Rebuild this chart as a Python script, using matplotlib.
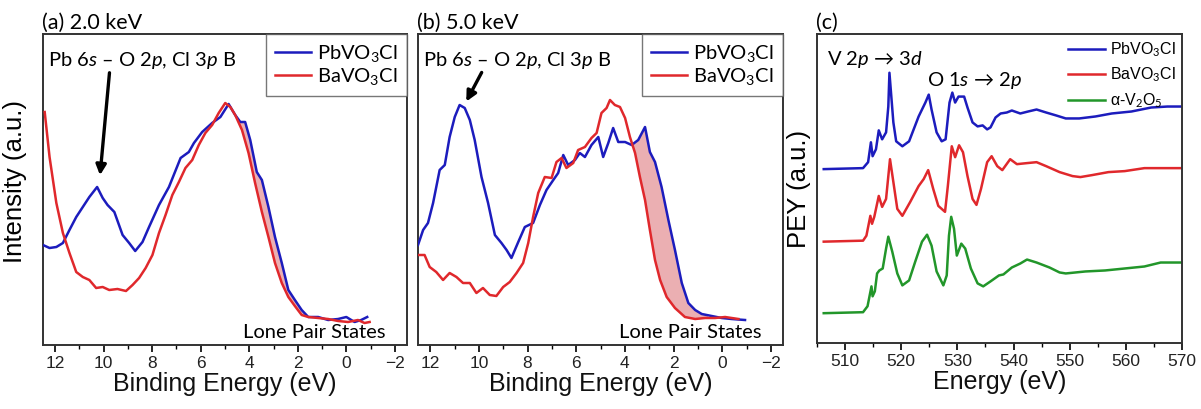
import numpy as np
import matplotlib.pyplot as plt

# ------------ data (intensity in arbitrary units) ------------

# (a) 2.0 keV
a_pb_e = [12.5, 12.23, 11.95, 11.68, 11.41, 11.13, 10.86, 10.59, 10.27, 10.04, 9.84, 9.56, 9.22, 8.95,
          8.70, 8.40, 8.13, 7.72, 7.31, 6.83, 6.49, 6.28, 5.94, 5.53, 5.19, 4.85, 4.58, 4.37, 4.17,
          3.96, 3.69, 3.48, 3.21, 2.94, 2.66, 2.39, 2.12, 1.84, 1.57, 1.16, 0.75, 0.34, 0.0, -0.34,
          -0.61, -0.86]
a_pb_i = [100, 97, 98, 102, 115, 128, 138, 148, 158, 147, 140, 133, 110, 102,
          94, 103, 118, 140, 158, 187, 193, 202, 213, 222, 228, 241, 230, 223, 223,
          205, 173, 165, 138, 108, 82, 55, 45, 35, 28, 28, 25, 26, 28, 23,
          25, 28]
a_ba_e = [12.43, 12.23, 11.95, 11.68, 11.41, 11.13, 10.86, 10.59, 10.31, 10.04, 9.77, 9.43, 9.08, 8.81,
          8.54, 8.27, 7.99, 7.72, 7.45, 7.17, 6.90, 6.63, 6.35, 6.08, 5.81, 5.53, 5.26, 4.99, 4.78,
          4.58, 4.30, 4.03, 3.76, 3.48, 3.21, 2.94, 2.66, 2.39, 2.12, 1.84, 1.57, 1.16, 0.75, 0.34,
          -0.07, -0.48, -0.75, -0.96]
a_ba_i = [233, 188, 142, 112, 92, 73, 68, 65, 57, 58, 55, 56, 54, 60,
          67, 77, 90, 112, 130, 150, 163, 177, 185, 200, 212, 220, 232, 242, 238,
          230, 215, 192, 162, 133, 108, 82, 62, 48, 39, 30, 28, 27, 26, 24,
          23, 25, 22, 23]

# (b) 5.0 keV
b_pb_e = [12.5, 12.29, 12.09, 11.88, 11.61, 11.40, 11.20, 10.99, 10.79, 10.58, 10.37, 10.17, 9.89, 9.62,
          9.34, 9.07, 8.86, 8.66, 8.38, 8.11, 7.77, 7.49, 7.22, 6.94, 6.74, 6.53, 6.33, 6.05, 5.85,
          5.64, 5.37, 5.09, 4.89, 4.68, 4.48, 4.27, 3.99, 3.72, 3.45, 3.17, 2.97, 2.76, 2.49, 2.21,
          1.94, 1.66, 1.39, 1.11, 0.84, 0.43, 0.02, -0.39, -0.94]
b_pb_i = [100, 115, 122, 142, 175, 180, 208, 228, 240, 237, 225, 205, 168, 142,
          110, 102, 95, 87, 103, 118, 122, 140, 155, 165, 172, 190, 180, 185, 192,
          188, 200, 208, 188, 202, 217, 203, 203, 200, 205, 218, 193, 183, 158, 125,
          95, 62, 42, 35, 31, 29, 27, 26, 25]
b_ba_e = [12.5, 12.23, 12.02, 11.75, 11.47, 11.20, 10.92, 10.65, 10.37, 10.10, 9.83, 9.55, 9.28, 9.00,
          8.73, 8.45, 8.18, 7.97, 7.77, 7.56, 7.29, 7.01, 6.81, 6.60, 6.40, 6.12, 5.92, 5.64, 5.37,
          5.16, 4.96, 4.75, 4.61, 4.41, 4.20, 3.99, 3.79, 3.58, 3.38, 3.17, 2.97, 2.76, 2.55, 2.28,
          1.94, 1.53, 1.11, 0.70, 0.29, -0.12, -0.67]
b_ba_i = [90, 90, 78, 73, 65, 72, 68, 62, 62, 52, 57, 50, 49, 58,
          63, 72, 82, 102, 128, 152, 168, 167, 183, 187, 177, 182, 195, 198, 207,
          212, 232, 237, 245, 240, 238, 227, 208, 192, 168, 145, 115, 85, 65, 48,
          37, 28, 26, 27, 27, 28, 26]

# (c) PEY, curves already stacked with offsets
c_pb_e = [506.2, 513.2, 514.1, 514.6, 514.9, 515.5, 516.0, 516.6, 517.3, 517.7, 517.9, 518.6, 519.1, 520.2,
          521.4, 523.1, 524.3, 524.9, 525.4, 526.3, 527.2, 527.9, 528.6, 529.1, 529.6, 530.2, 531.2,
          531.8, 532.7, 533.6, 534.5, 535.3, 535.9, 536.8, 537.7, 538.8, 539.7, 541.2, 542.6, 544.1,
          545.8, 547.6, 549.3, 551.7, 554.6, 557.5, 561.0, 564.5, 567.4, 569.8]
c_pb_i = [175, 176, 182, 202, 188, 195, 214, 205, 212, 238, 272, 222, 203, 198,
          203, 228, 242, 250, 235, 212, 203, 205, 242, 252, 242, 248, 248,
          237, 222, 218, 219, 215, 217, 227, 231, 232, 234, 231, 233, 235,
          232, 229, 226, 226, 228, 231, 233, 237, 238, 238]
c_ba_e = [506.2, 513.2, 513.8, 514.5, 514.8, 515.2, 516.0, 516.6, 517.3, 518.0, 518.6, 519.3, 520.2, 521.6,
          523.1, 524.0, 524.8, 525.7, 526.6, 527.8, 528.3, 529.0, 529.6, 530.3, 531.0, 531.8, 532.7,
          533.4, 534.2, 535.3, 536.1, 537.1, 538.0, 539.4, 540.6, 542.3, 544.1, 545.8, 548.2, 550.5,
          551.9, 554.0, 556.9, 559.8, 563.3, 566.8, 569.8]
c_ba_i = [102, 103, 108, 128, 120, 127, 148, 137, 145, 185, 162, 135, 128, 142,
          158, 165, 174, 155, 138, 132, 158, 198, 187, 199, 192, 168, 145,
          139, 155, 182, 188, 178, 174, 185, 180, 181, 182, 178, 172, 168,
          167, 169, 172, 173, 176, 176, 176]
c_v2o5_e = [506.2, 513.2, 514.0, 514.7, 514.9, 515.3, 515.7, 516.1, 516.7, 517.3, 517.7, 518.4, 519.3, 520.2,
            521.4, 522.5, 523.7, 524.6, 525.4, 526.3, 527.5, 528.1, 528.5, 528.9, 529.4, 529.9, 530.7,
            531.4, 532.4, 533.6, 534.6, 535.9, 537.4, 538.2, 539.7, 541.2, 542.4, 544.1, 546.4, 548.2,
            549.3, 552.8, 556.3, 559.8, 563.3, 566.2, 569.8]
c_v2o5_i = [30, 31, 37, 57, 47, 52, 70, 73, 75, 95, 107, 92, 70, 58,
            63, 82, 102, 109, 98, 72, 58, 68, 108, 127, 115, 88, 100,
            95, 75, 60, 57, 62, 68, 69, 76, 80, 84, 81, 76, 71,
            70, 72, 73, 75, 77, 81, 81]

labels_vb = ['PbVO$_3$Cl', 'BaVO$_3$Cl']
labels_xas = ['PbVO$_3$Cl', 'BaVO$_3$Cl', '\u03b1-V$_2$O$_5$']

blue = '#1c1cbd'
red = '#e0282c'
green = '#22962a'
pink = '#e9a6aa'

# ------------ figure ------------
W, H = 1201, 409
fig = plt.figure(figsize=(W / 100, H / 100), dpi=100)

calib = ['Lato', 'DejaVu Sans']
arial = 'Liberation Sans'
plt.rcParams['mathtext.fontset'] = 'custom'
plt.rcParams['mathtext.rm'] = 'Lato'
plt.rcParams['mathtext.it'] = 'Lato:italic'


def box(x0, y0, x1, y1):
    return [x0 / W, 1 - y1 / H, (x1 - x0) / W, (y1 - y0) / H]


def style_axes(ax, xlim, major, minor, xlabel):
    ax.set_xlim(*xlim)
    ax.set_ylim(0, 311)
    ax.set_yticks([])
    ax.set_xticks(major)
    ax.set_xticks(minor, minor=True)
    ax.tick_params(axis='x', which='major', direction='out', length=5, width=1.2, pad=3)
    ax.tick_params(axis='x', which='minor', direction='out', length=3, width=1.0)
    for t in ax.get_xticklabels():
        t.set_fontfamily(arial)
        t.set_fontsize(12.5)
        t.set_color('#222222')
    for s in ax.spines.values():
        s.set_linewidth(1.4)
        s.set_color('#333333')
    ax.set_xlabel(xlabel, fontsize=18, family=arial, labelpad=1, color='#111111')


def vb_panel(ax, pb_e, pb_i, ba_e, ba_i, fill_lo, fill_hi, title, arrow_tip, arrow_start):
    ax.plot(pb_e, pb_i, color=blue, lw=1.8, label=labels_vb[0], zorder=3)
    ax.plot(ba_e, ba_i, color=red, lw=1.8, label=labels_vb[1], zorder=3)
    # shaded difference at the lone pair region
    grid = np.linspace(fill_lo, fill_hi, 300)
    pb_g = np.interp(grid, pb_e[::-1], pb_i[::-1])
    ba_g = np.interp(grid, ba_e[::-1], ba_i[::-1])
    ax.fill_between(grid, ba_g, pb_g, where=pb_g > ba_g, color=pink, alpha=0.9, lw=0, zorder=2)
    style_axes(ax, (12.5, -2.5), np.arange(12, -3, -2), np.arange(11, -3, -2), 'Binding Energy (eV)')
    leg = ax.legend(loc='upper right', borderaxespad=0, fancybox=False, edgecolor='#555555',
                    prop={'family': calib, 'size': 14.5}, handlelength=1.8, handletextpad=0.3,
                    borderpad=0.45, labelspacing=0.1)
    leg.get_frame().set_linewidth(1.0)
    ax.text(0.013, 0.915, 'Pb 6$\\it{s}$ \u2013 O 2$\\it{p}$, Cl 3$\\it{p}$ B', transform=ax.transAxes,
            fontsize=14.5, family=calib, va='center', ha='left')
    ax.annotate('', xy=arrow_tip, xytext=arrow_start,
                arrowprops=dict(arrowstyle='-|>', color='black', lw=2.4, mutation_scale=15))
    ax.text(0.942, 0.04, 'Lone Pair States', transform=ax.transAxes, fontsize=14.5, family=calib,
            ha='right', va='center')
    ax.set_title(title, loc='left', fontsize=15.5, family=calib, pad=4, x=-0.003)


ax_a = fig.add_axes(box(43, 34, 407, 345))
vb_panel(ax_a, a_pb_e, a_pb_i, a_ba_e, a_ba_i, 1.6, 4.4, '(a) 2.0 keV', (10.16, 167), (9.75, 275))
ax_a.set_ylabel('Intensity (a.u.)', fontsize=18.5, family=arial)
ax_a.yaxis.set_label_coords(-0.045, 0.527)

ax_b = fig.add_axes(box(418, 34, 783, 345))
vb_panel(ax_b, b_pb_e, b_pb_i, b_ba_e, b_ba_i, 0.6, 3.7, '(b) 5.0 keV', (10.57, 241), (9.83, 275))

# (c) XAS
ax_c = fig.add_axes(box(817, 34, 1182, 343))
ax_c.plot(c_pb_e, c_pb_i, color=blue, lw=1.8, label=labels_xas[0])
ax_c.plot(c_ba_e, c_ba_i, color=red, lw=1.8, label=labels_xas[1])
ax_c.plot(c_v2o5_e, c_v2o5_i, color=green, lw=1.8, label=labels_xas[2])
style_axes(ax_c, (506.2, 570), np.arange(510, 571, 10), np.arange(505, 571, 5), 'Energy (eV)')
ax_c.set_ylabel('PEY (a.u.)', fontsize=18.5, family=arial, labelpad=4)
ax_c.legend(loc='upper right', frameon=False, borderaxespad=0, prop={'family': arial, 'size': 11.5},
            handlelength=2.3, handletextpad=0.3, labelspacing=0.45)
ax_c.text(0.027, 0.916, 'V 2$\\it{p}$ \u2192 3$\\it{d}$', transform=ax_c.transAxes, fontsize=14.5,
          family=calib, va='center')
ax_c.text(0.301, 0.851, 'O 1$\\it{s}$ \u2192 2$\\it{p}$', transform=ax_c.transAxes, fontsize=14.5,
          family=calib, va='center')
ax_c.set_title('(c)', loc='left', fontsize=15.5, family=calib, pad=4, x=-0.003)

fig.savefig('out.png', dpi=100)
